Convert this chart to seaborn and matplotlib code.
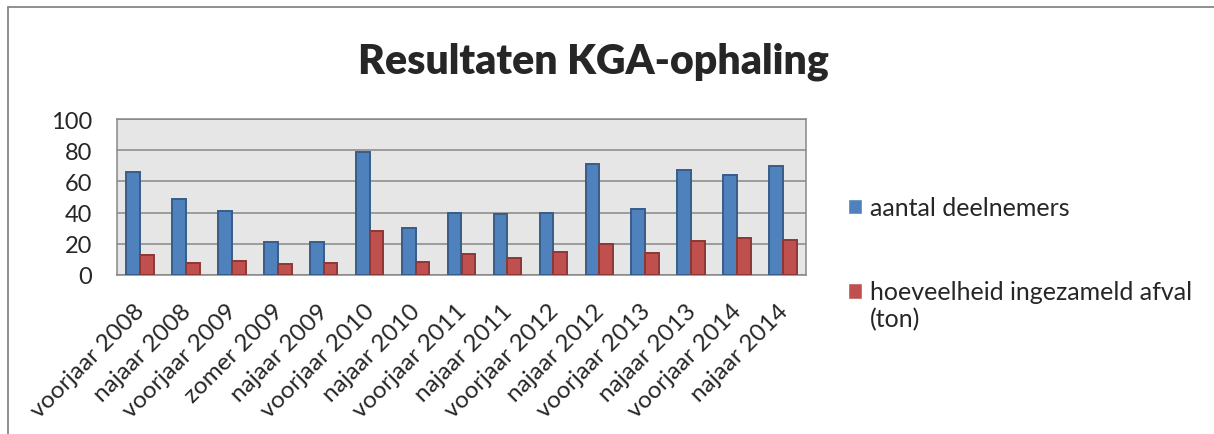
import matplotlib
matplotlib.use("Agg")
import matplotlib.pyplot as plt
import matplotlib.transforms as mtransforms
import seaborn as sns
import pandas as pd
from matplotlib.lines import Line2D

periods = ["voorjaar 2008", "najaar 2008", "voorjaar 2009", "zomer 2009", "najaar 2009",
           "voorjaar 2010", "najaar 2010", "voorjaar 2011", "najaar 2011", "voorjaar 2012",
           "najaar 2012", "voorjaar 2013", "najaar 2013", "voorjaar 2014", "najaar 2014"]
deelnemers = [66, 49, 41, 21, 21, 79, 30, 40, 39, 40, 71, 42, 67, 64, 70]
afval = [13, 8, 9, 7, 8, 28, 8.5, 13.5, 11, 15, 20, 14, 22, 24, 22.5]
series = ["aantal deelnemers", "hoeveelheid ingezameld afval (ton)"]
legend_labels = ["aantal deelnemers", "hoeveelheid ingezameld afval\n(ton)"]
yticks = [0, 20, 40, 60, 80, 100]

df = pd.DataFrame({
    "periode": periods * 2,
    "waarde": deelnemers + afval,
    "serie": [series[0]] * len(periods) + [series[1]] * len(periods),
})

sns.set_style("white")
plt.rcParams["font.family"] = ["Lato", "DejaVu Sans"]

fig = plt.figure(figsize=(12.14, 4.35), dpi=100)
ax = fig.add_axes([117 / 1214, 1 - 276 / 435, (806 - 117) / 1214, (276 - 120) / 435])

face = ["#4F81BD", "#C0504D"]
edge = ["#385D8A", "#8C3836"]
sns.barplot(data=df, x="periode", y="waarde", hue="serie", palette=face,
            width=0.6, gap=0, ax=ax, legend=True, saturation=1)
for cont, ec in zip(ax.containers, edge):
    for p in cont:
        p.set_edgecolor(ec)
        p.set_linewidth(1.4)
        p.set_zorder(3)

ax.set_facecolor("#E6E6E6")
ax.set_ylim(0, 100)
ax.set_yticks(yticks)
ax.set_xlim(-0.5, len(periods) - 0.5)
ax.yaxis.grid(True, color="#878787", linewidth=1.1, zorder=1)
ax.set_axisbelow(True)
for s in ax.spines.values():
    s.set_visible(True)
    s.set_color("#878787")
    s.set_linewidth(1.1)
ax.set_xlabel("")
ax.set_ylabel("")
ax.tick_params(axis="y", length=0, pad=18, labelsize=17)
ax.tick_params(axis="x", length=0, pad=18, labelsize=17.5)
offset = mtransforms.ScaledTranslation(-6 / 100, 0, fig.dpi_scale_trans)
for lbl in ax.get_xticklabels():
    lbl.set_rotation(45)
    lbl.set_ha("right")
    lbl.set_rotation_mode("anchor")
    lbl.set_transform(lbl.get_transform() + offset)

fs = 18
handles, _ = ax.get_legend_handles_labels()
leg = ax.legend(handles, legend_labels, loc="upper left", bbox_to_anchor=(848 / 1214, 1 - 197 / 435),
                bbox_transform=fig.transFigure, frameon=False, fontsize=fs,
                borderpad=0, borderaxespad=0,
                handlelength=0.55, handleheight=0.55, handletextpad=0.32, labelspacing=2.45)
h2 = leg.legend_handles[1]
h2.set_y(h2.get_y() + 0.6 * fs)

fig.text(593 / 1214, 1 - 62 / 435, "Resultaten KGA-ophaling", ha="center", va="center",
         fontsize=29.5, fontweight="heavy")

fig.add_artist(Line2D([8 / 1214, 8 / 1214], [0, 1 - 8 / 435], transform=fig.transFigure,
                      color="#878787", linewidth=1.3))
fig.add_artist(Line2D([8 / 1214, 1], [1 - 8 / 435, 1 - 8 / 435], transform=fig.transFigure,
                      color="#878787", linewidth=1.3))

fig.savefig("out.png", dpi=100, facecolor="white")
